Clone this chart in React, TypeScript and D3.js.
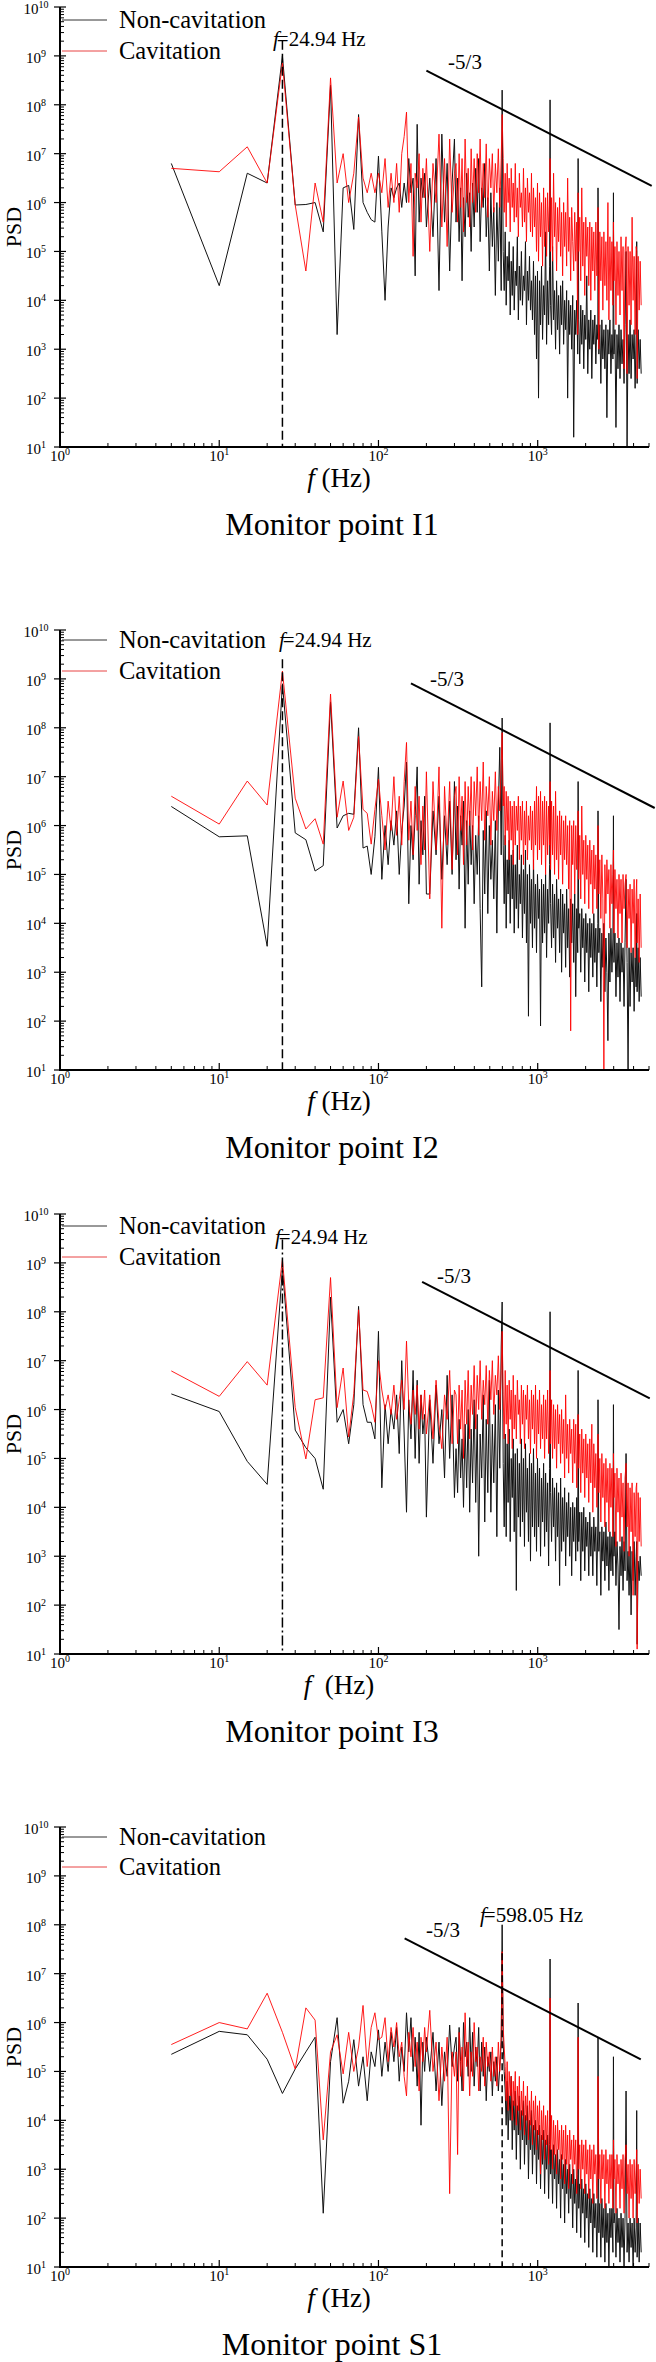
import React from 'react';
import * as d3 from 'd3';

// Frequency grid (Hz) shared by every spectrum
const freqHz = [
  5, 10, 15, 20, 24.94, 30, 35, 40, 45, 50, 55, 60, 65, 70, 75, 80, 85, 90, 95, 100,
  105, 110, 115, 120, 125, 130, 135, 140, 145, 150, 155, 160, 165, 170, 175, 180, 185, 190, 195, 200,
  210, 220, 230, 240, 250, 260, 270, 280, 290, 300,
  307, 314, 321, 328, 335, 342, 350, 358, 366, 374, 382, 390, 399, 408, 417, 426, 435, 445, 455, 465,
  475, 486, 497, 508, 519, 530, 542, 554, 566, 578, 590, 598,
  607, 616, 625, 634, 643, 652, 662, 672, 682, 692,
  702, 712, 723, 734, 745, 756, 767, 778, 790, 802,
  814, 826, 838, 850, 862, 875, 888, 901, 914, 927,
  941, 955, 969, 983, 997, 1012, 1027, 1042, 1057, 1073,
  1089, 1105, 1121, 1137, 1154, 1171, 1188, 1196, 1205, 1222,
  1240, 1258, 1276, 1295, 1314, 1333, 1353, 1373, 1393, 1413,
  1434, 1455, 1476, 1498, 1520, 1542, 1565, 1588, 1611, 1635,
  1659, 1683, 1708, 1733, 1758, 1784, 1794, 1810, 1837, 1864,
  1891, 1919, 1947, 1975, 2004, 2033, 2063, 2093, 2124, 2155,
  2187, 2219, 2251, 2284, 2318, 2352, 2386, 2392, 2421, 2456,
  2492, 2529, 2566, 2604, 2642, 2681, 2720, 2760, 2800, 2841,
  2883, 2925, 2968, 2990, 3012, 3056, 3101, 3147, 3193, 3240,
  3288, 3336, 3385, 3435, 3485, 3536, 3588, 3641, 3694, 3748,
  3803, 3859, 3916, 3973, 4032, 4091, 4151, 4186, 4212, 4274,
  4337, 4400, 4465,
];

// PSD values as decimal exponents (PSD = 10^value), one per frequency above
const i1NonCavExp = [
  6.8, 4.3, 6.6, 6.4, 9.0, 5.95, 5.96, 6.0, 5.4, 8.4, 3.3, 6.3, 6.35, 5.45, 7.8, 6.0, 5.8, 5.65, 5.6, 6.95,
  5.4, 4.0, 5.5, 6.3, 6.1, 6.3, 6.4, 5.9, 6.4, 6.0, 6.9, 6.2, 6.5, 4.5, 7.6, 5.6, 6.5, 6.1, 6.6, 5.5,
  6.5, 5.3, 6.9, 4.2, 7.4, 5.6, 6.8, 4.6, 6.4, 7.3,
  5.6, 6.5, 5.2, 6.3, 4.4, 6.1, 5.3, 6.6, 5.7, 6.2, 5.0, 6.4, 5.5, 6.7, 5.8, 6.9, 5.2, 6.3, 5.9, 6.8,
  5.3, 6.1, 4.6, 6.2, 5.1, 5.9, 4.1, 6.0, 4.8, 6.3, 4.2, 8.3,
  5.0, 4.2, 5.4, 3.9, 4.9, 4.4, 5.2, 3.7, 4.8, 4.1,
  5.1, 3.8, 4.6, 4.3, 5.3, 3.6, 4.7, 4.0, 5.0, 3.9,
  4.5, 4.2, 5.2, 3.5, 4.6, 4.0, 4.9, 3.8, 4.4, 3.6,
  4.8, 3.3, 4.5, 2.8, 4.6, 2.0, 4.4, 3.5, 4.7, 3.2,
  4.3, 3.7, 5.4, 3.1, 4.4, 3.5, 4.7, 8.1, 3.9, 3.3,
  5.1, 3.6, 4.2, 3.0, 4.4, 3.4, 4.1, 2.9, 4.3, 3.5,
  4.4, 3.1, 4.0, 3.4, 4.2, 2.0, 4.0, 3.3, 3.9, 3.0,
  4.1, 1.2, 3.8, 3.3, 4.0, 2.9, 6.9, 3.6, 2.7, 3.9,
  3.1, 3.8, 2.6, 3.7, 3.2, 4.5, 2.5, 3.6, 3.0, 3.8,
  2.4, 3.6, 3.1, 3.7, 2.7, 3.5, 3.2, 6.3, 2.9, 3.5,
  2.3, 3.6, 2.8, 3.4, 2.6, 3.5, 1.6, 3.4, 2.9, 3.6,
  2.5, 3.3, 2.8, 6.2, 2.9, 3.4, 1.4, 3.3, 2.6, 3.5,
  2.4, 3.4, 2.7, 3.2, 2.3, 3.5, 5.0, 1.0, 3.3, 2.5,
  3.6, 2.4, 3.3, 2.8, 3.4, 2.2, 3.3, 5.2, 2.3, 3.4,
  2.6, 3.2, 2.5,
];
const i1CavExp = [
  6.7, 6.63, 7.14, 6.4, 8.85, 5.95, 4.6, 6.4, 5.6, 8.55, 6.4, 7.0, 6.0, 6.6, 7.75, 6.5, 6.2, 6.6, 6.2, 6.6,
  6.2, 6.9, 5.9, 6.6, 6.0, 6.8, 5.8, 7.0, 7.35, 7.85, 6.0, 6.8, 4.9, 6.6, 6.3, 7.0, 5.6, 6.7, 6.1, 6.9,
  5.0, 6.8, 6.0, 7.4, 5.5, 6.9, 5.1, 7.3, 5.8, 6.6,
  6.8, 5.6, 7.0, 5.9, 6.9, 5.4, 7.3, 6.0, 6.7, 5.5, 7.1, 6.0, 6.9, 5.8, 7.0, 6.2, 7.3, 5.9, 6.8, 6.1,
  7.2, 5.7, 6.9, 6.3, 7.0, 5.8, 6.8, 6.2, 7.1, 5.9, 6.9, 7.8,
  6.9, 5.8, 6.6, 5.5, 6.8, 6.0, 6.5, 5.4, 6.7, 5.9,
  6.4, 5.6, 6.8, 5.7, 6.3, 5.3, 6.6, 5.9, 6.2, 5.5,
  6.7, 5.6, 6.3, 5.2, 6.5, 5.8, 6.2, 5.4, 6.6, 5.3,
  6.3, 5.5, 6.1, 5.0, 6.4, 4.8, 6.2, 5.3, 6.0, 4.7,
  6.3, 5.1, 6.1, 4.9, 6.2, 5.4, 6.0, 6.9, 5.0, 6.1,
  4.8, 6.6, 5.3, 6.0, 4.6, 5.9, 5.2, 6.1, 4.9, 5.8,
  4.5, 6.0, 5.1, 5.8, 4.7, 6.5, 5.0, 5.7, 4.4, 5.9,
  5.2, 4.6, 5.8, 4.8, 5.6, 3.3, 6.2, 5.0, 5.7, 4.4,
  6.3, 4.7, 5.6, 4.1, 5.7, 4.9, 5.5, 4.3, 5.6, 4.0,
  5.5, 4.6, 5.4, 4.2, 5.6, 4.5, 5.3, 5.9, 3.0, 5.4,
  4.4, 5.3, 3.8, 5.4, 4.3, 5.2, 4.0, 6.0, 3.6, 5.3,
  4.2, 5.2, 3.9, 5.6, 4.4, 5.1, 3.5, 5.2, 4.1, 5.0,
  3.7, 5.3, 4.2, 5.1, 2.6, 5.0, 5.3, 2.5, 5.1, 3.9,
  5.0, 3.5, 5.7, 4.0, 4.9, 3.3, 5.1, 5.0, 2.4, 4.9,
  3.8, 4.8, 3.9,
];
const i2NonCavExp = [
  6.39, 5.77, 5.79, 3.53, 8.9, 5.85, 5.71, 5.07, 5.18, 8.53, 5.95, 6.2, 6.25, 6.23, 8.0, 5.54, 5.58, 5.0, 5.77, 7.19,
  4.9, 6.0, 5.2, 6.1, 5.6, 6.3, 5.0, 5.9, 6.4, 7.3, 4.4, 6.0, 5.3, 6.2, 7.2, 4.8, 6.1, 5.4, 6.6, 4.6,
  4.6, 6.3, 5.4, 6.6, 4.9, 6.2, 5.2, 6.5, 5.0, 6.9,
  5.3, 6.4, 4.7, 6.2, 5.6, 6.5, 3.9, 6.1, 4.8, 6.3, 5.2, 6.0, 4.4, 5.8, 5.0, 6.2, 4.3, 2.7, 5.9, 4.6,
  6.3, 4.2, 6.0, 4.9, 5.7, 4.5, 6.1, 3.8, 6.4, 7.6, 5.4, 8.2,
  5.6, 4.4, 5.8, 3.9, 5.3, 4.6, 5.7, 4.0, 5.4, 4.5,
  5.5, 3.8, 5.2, 4.3, 5.6, 3.9, 5.0, 4.4, 5.4, 3.7,
  5.1, 4.2, 5.5, 3.6, 5.0, 2.1, 5.2, 4.0, 4.9, 3.5,
  5.3, 3.9, 4.8, 3.4, 5.0, 4.1, 4.7, 1.9, 4.9, 3.6,
  4.8, 3.8, 5.0, 3.3, 4.7, 4.0, 5.2, 8.1, 4.4, 3.5,
  4.8, 3.7, 4.6, 3.2, 4.9, 3.9, 4.5, 3.4, 4.7, 3.0,
  4.6, 3.8, 4.4, 3.1, 4.7, 3.5, 4.3, 2.9, 4.5, 3.6,
  4.4, 3.2, 4.6, 2.5, 4.3, 3.4, 6.9, 3.9, 4.2, 3.0,
  4.3, 3.5, 4.1, 2.8, 4.2, 3.4, 4.0, 2.6, 4.1, 3.3,
  4.0, 2.9, 4.2, 3.2, 3.9, 2.7, 4.0, 6.3, 3.4, 3.9,
  2.4, 3.8, 3.1, 4.0, 2.6, 3.7, 3.0, 1.6, 3.8, 2.8,
  3.9, 3.0, 3.7, 6.2, 3.2, 3.8, 2.5, 3.6, 2.9, 3.7,
  2.4, 3.6, 3.0, 3.5, 2.3, 3.6, 4.9, 3.2, 1.0, 3.5,
  2.3, 3.4, 2.8, 3.5, 2.2, 3.3, 2.7, 4.2, 2.6, 3.5,
  2.4, 3.3, 2.5,
];
const i2CavExp = [
  6.6, 6.03, 6.91, 6.42, 9.16, 6.56, 5.93, 6.14, 5.62, 8.69, 6.17, 6.91, 5.9, 6.17, 7.82, 6.33, 6.25, 5.62, 6.33, 6.95,
  6.2, 5.5, 6.5, 5.9, 7.0, 5.8, 6.6, 5.6, 6.9, 7.7, 5.7, 6.5, 5.4, 6.8, 5.9, 6.6, 5.2, 6.4, 5.5, 7.1,
  4.5, 6.9, 5.5, 7.2, 3.9, 6.8, 5.6, 6.9, 5.1, 6.6,
  6.8, 5.4, 7.0, 5.9, 6.6, 5.2, 6.9, 5.6, 6.8, 6.0, 7.0, 5.5, 6.9, 6.2, 7.2, 5.8, 6.9, 6.1, 7.3, 5.7,
  6.8, 6.2, 7.0, 5.6, 6.7, 6.1, 7.1, 5.9, 6.8, 6.3, 7.3, 7.9,
  6.4, 6.8, 5.6, 6.7, 5.9, 6.6, 5.3, 6.5, 5.7, 6.4,
  5.2, 6.5, 5.6, 6.4, 5.9, 6.6, 5.3, 6.4, 5.7, 6.5,
  5.2, 6.3, 5.6, 6.5, 5.3, 6.2, 5.7, 6.4, 5.5, 6.3,
  5.1, 6.5, 5.6, 6.8, 5.3, 6.6, 5.5, 6.7, 5.2, 6.5,
  5.6, 6.6, 5.0, 6.5, 5.4, 6.4, 5.6, 6.9, 5.1, 6.5,
  5.4, 6.4, 5.0, 6.7, 5.3, 6.2, 4.9, 6.3, 5.4, 6.2,
  4.8, 6.1, 5.3, 6.2, 5.2, 6.0, 4.7, 6.1, 1.8, 6.0,
  5.2, 6.1, 4.6, 6.0, 5.1, 5.9, 6.3, 4.9, 5.8, 4.5,
  6.4, 5.0, 5.7, 4.4, 5.8, 4.9, 5.6, 4.3, 5.7, 4.8,
  5.5, 4.2, 5.6, 4.7, 5.4, 4.3, 5.5, 6.0, 4.6, 5.3,
  4.1, 5.4, 4.5, 1.0, 5.2, 4.2, 5.3, 4.6, 5.1, 3.9,
  5.2, 4.4, 5.0, 5.5, 3.8, 5.1, 4.3, 4.9, 3.7, 5.0,
  4.2, 4.9, 3.6, 5.0, 4.3, 4.8, 5.0, 3.5, 4.7, 4.1,
  4.8, 3.4, 4.7, 4.0, 4.9, 3.3, 4.6, 4.9, 3.6, 4.5,
  3.2, 4.6, 3.5,
];
const i3NonCavExp = [
  6.32, 5.96, 4.94, 4.47, 8.9, 5.58, 5.22, 5.0, 4.37, 8.3, 5.74, 6.0, 5.3, 6.1, 8.11, 6.1, 5.74, 5.74, 5.4, 7.6,
  4.4, 6.1, 5.3, 6.0, 5.6, 6.3, 5.1, 7.0, 5.5, 3.9, 6.2, 5.4, 6.8, 5.0, 6.6, 4.9, 6.3, 5.5, 5.9, 3.8,
  6.2, 4.9, 6.5, 5.3, 6.0, 4.6, 6.7, 5.0, 6.3, 4.2,
  5.2, 4.3, 5.8, 4.6, 5.4, 4.0, 5.7, 4.4, 6.0, 3.9, 5.6, 4.5, 6.2, 4.1, 5.9, 3.0, 5.5, 4.6, 6.3, 3.7,
  5.8, 4.3, 6.6, 3.9, 5.7, 4.5, 6.1, 3.4, 6.4, 4.8, 7.3, 8.2,
  4.9, 3.6, 5.5, 3.4, 5.3, 4.1, 5.6, 3.3, 5.0, 4.2,
  5.4, 3.5, 5.1, 2.3, 5.2, 3.8, 4.9, 3.4, 5.4, 3.7,
  5.0, 3.2, 5.3, 3.9, 4.8, 3.3, 5.1, 2.9, 4.9, 3.6,
  5.2, 3.4, 4.7, 3.1, 5.0, 3.6, 4.8, 3.0, 4.6, 3.7,
  4.9, 3.2, 4.7, 3.5, 4.5, 2.8, 4.8, 8.0, 4.3, 3.3,
  4.6, 3.6, 4.4, 2.9, 4.5, 3.4, 4.3, 2.4, 4.6, 3.1,
  4.2, 3.3, 4.4, 2.8, 4.1, 3.4, 4.3, 3.0, 4.0, 2.6,
  4.1, 3.3, 4.0, 2.9, 4.2, 3.1, 6.8, 3.3, 3.9, 2.5,
  3.9, 3.1, 4.0, 2.7, 3.8, 3.2, 3.7, 2.6, 3.9, 3.0,
  3.6, 2.6, 3.8, 3.1, 3.6, 2.4, 3.7, 6.2, 3.1, 3.5,
  2.2, 3.6, 2.9, 3.5, 2.5, 3.7, 2.8, 3.4, 2.3, 3.5,
  2.7, 3.4, 2.6, 6.1, 3.0, 3.5, 2.4, 3.3, 2.8, 1.5,
  3.2, 2.6, 3.4, 2.3, 3.3, 2.7, 5.1, 2.5, 3.1, 2.2,
  3.2, 1.8, 3.1, 2.5, 3.3, 2.2, 3.0, 3.3, 1.2, 2.9,
  2.5, 3.0, 2.6,
];
const i3CavExp = [
  6.79, 6.27, 6.98, 6.5, 9.07, 6.04, 4.99, 6.2, 6.24, 8.7, 6.04, 6.85, 5.44, 6.33, 8.04, 6.4, 6.37, 6.1, 5.74, 7.0,
  6.4, 6.0, 6.3, 5.9, 6.5, 5.8, 6.2, 6.6, 6.0, 7.4, 6.1, 5.7, 6.4, 5.9, 6.5, 5.6, 6.3, 5.8, 6.4, 5.5,
  6.3, 5.4, 6.6, 5.7, 5.2, 6.3, 5.8, 6.8, 5.3, 6.4,
  6.3, 5.3, 6.5, 5.6, 6.4, 5.0, 6.6, 5.7, 6.8, 5.4, 6.5, 5.9, 6.9, 5.6, 6.7, 6.0, 7.0, 5.8, 6.6, 6.1,
  6.9, 5.7, 6.8, 6.2, 7.0, 5.9, 6.7, 6.3, 7.1, 6.0, 6.8, 7.6,
  6.3, 5.4, 6.8, 5.7, 6.5, 5.3, 6.6, 5.8, 6.4, 5.2,
  6.7, 5.6, 6.3, 5.4, 6.6, 5.9, 6.2, 5.3, 6.5, 5.7,
  6.4, 5.2, 6.3, 5.8, 6.5, 5.4, 6.2, 5.1, 6.4, 5.6,
  6.3, 5.3, 6.5, 5.0, 6.2, 5.5, 6.4, 5.2, 6.1, 5.4,
  6.3, 5.0, 6.2, 5.4, 6.4, 5.1, 6.1, 6.8, 5.3, 6.2,
  5.0, 6.1, 5.2, 6.0, 4.8, 6.1, 5.3, 5.9, 4.9, 6.0,
  5.1, 5.8, 4.6, 6.3, 5.0, 5.7, 4.7, 5.8, 5.1, 5.6,
  4.5, 5.8, 4.9, 5.7, 4.4, 5.6, 5.9, 4.8, 5.5, 4.3,
  5.6, 4.7, 5.4, 4.2, 5.5, 4.6, 5.3, 4.1, 5.4, 4.5,
  5.7, 3.9, 5.3, 4.4, 5.1, 4.0, 5.2, 5.5, 4.3, 5.0,
  3.7, 5.1, 4.2, 4.9, 3.6, 5.0, 4.1, 4.8, 3.5, 4.9,
  4.0, 4.8, 3.4, 5.1, 4.2, 4.7, 3.2, 4.8, 3.9, 4.6,
  3.3, 4.7, 3.8, 4.5, 3.1, 4.6, 4.9, 3.6, 4.5, 3.0,
  4.4, 3.5, 4.5, 2.2, 4.3, 3.4, 4.4, 4.5, 1.1, 4.3,
  3.3, 4.2, 3.2,
];
const s1NonCavExp = [
  5.35, 5.82, 5.75, 5.25, 4.55, 5.05, 5.4, 5.7, 2.1, 5.2, 6.1, 4.35, 4.8, 5.65, 4.7, 5.3, 4.4, 5.4, 5.1, 5.85,
  4.9, 5.6, 5.0, 5.8, 5.2, 5.9, 4.8, 5.5, 5.0, 6.2, 5.4, 6.1, 5.0, 5.7, 4.7, 5.8, 3.9, 5.6, 5.0, 5.7,
  5.0, 5.8, 4.6, 5.6, 4.3, 5.4, 4.9, 5.95, 5.1, 5.5,
  5.7, 4.8, 5.9, 5.2, 4.6, 6.0, 5.3, 5.6, 4.9, 6.1, 5.0, 5.8, 4.7, 5.5, 5.1, 5.9, 4.6, 5.6, 4.9, 5.5,
  4.4, 5.3, 5.0, 5.4, 4.5, 5.2, 4.8, 5.3, 4.6, 5.1, 5.6, 8.0,
  5.6, 5.0, 4.6, 3.9, 4.8, 3.6, 4.5, 4.0, 4.9, 3.4,
  4.4, 3.8, 4.6, 3.2, 4.3, 3.7, 4.5, 3.0, 4.2, 3.6,
  4.4, 3.1, 4.1, 3.5, 4.3, 2.8, 4.0, 3.4, 4.2, 2.9,
  3.9, 3.3, 4.0, 2.7, 3.8, 3.2, 3.9, 2.6, 3.7, 3.1,
  3.8, 2.5, 3.6, 3.0, 3.7, 2.4, 3.5, 7.3, 2.9, 3.4,
  2.3, 3.5, 2.8, 3.3, 2.2, 3.4, 2.7, 3.2, 2.0, 3.3,
  2.6, 3.1, 1.9, 3.2, 2.5, 3.0, 2.1, 3.1, 2.4, 2.9,
  1.8, 3.0, 2.3, 2.8, 1.7, 2.9, 6.4, 2.2, 2.7, 1.6,
  2.8, 2.1, 2.6, 1.5, 2.7, 2.0, 2.5, 1.4, 2.6, 1.9,
  2.4, 1.3, 2.5, 1.8, 2.3, 1.2, 2.4, 5.7, 1.7, 2.3,
  1.2, 2.4, 1.6, 2.2, 1.1, 2.3, 1.5, 2.1, 1.0, 2.2,
  1.6, 2.2, 1.3, 5.3, 1.9, 2.1, 1.2, 2.2, 1.5, 2.0,
  1.1, 2.1, 1.4, 2.0, 1.0, 2.0, 4.6, 1.3, 1.9, 1.1,
  2.0, 1.4, 1.9, 1.0, 2.0, 1.3, 1.8, 4.2, 1.2, 2.0,
  1.1, 1.9, 1.3,
];
const s1CavExp = [
  5.55, 6.0, 5.87, 6.6, 5.8, 5.05, 6.3, 6.05, 3.6, 5.4, 5.75, 4.95, 5.8, 5.0, 5.5, 6.35, 5.1, 5.9, 6.2, 5.65,
  5.7, 6.1, 5.2, 5.9, 5.5, 6.0, 5.3, 5.6, 4.9, 4.5, 5.8, 5.3, 5.9, 5.1, 5.6, 4.6, 5.7, 5.2, 5.9, 5.4,
  6.25, 5.0, 5.6, 4.4, 5.5, 4.8, 5.7, 2.5, 5.4, 4.9,
  5.4, 3.3, 5.8, 4.9, 5.5, 4.6, 6.2, 5.1, 5.6, 4.5, 5.4, 4.9, 6.0, 5.2, 5.5, 4.6, 5.3, 5.0, 5.7, 4.7,
  5.6, 5.1, 5.4, 4.8, 5.5, 4.9, 5.3, 4.7, 5.6, 5.0, 5.7, 7.45,
  5.9, 5.5, 5.1, 4.4, 5.2, 4.2, 5.0, 4.5, 4.9, 4.0,
  4.8, 4.3, 5.0, 3.9, 4.7, 4.2, 4.9, 3.8, 4.6, 4.1,
  4.8, 3.7, 4.5, 4.0, 4.7, 3.6, 4.4, 3.9, 4.6, 3.5,
  4.4, 3.8, 4.5, 3.4, 4.3, 3.7, 4.4, 2.9, 4.2, 3.6,
  4.3, 3.2, 4.1, 3.5, 4.2, 3.1, 4.0, 6.5, 3.4, 4.1,
  3.0, 4.0, 3.3, 3.9, 2.9, 4.0, 3.4, 3.8, 2.8, 3.9,
  3.2, 3.8, 2.7, 3.9, 3.1, 3.7, 2.6, 3.8, 3.2, 3.6,
  2.7, 3.7, 3.1, 3.6, 2.5, 3.7, 5.7, 3.0, 3.5, 2.6,
  3.6, 3.0, 3.5, 2.5, 3.6, 2.9, 3.4, 2.4, 3.5, 2.8,
  3.4, 2.3, 3.5, 2.9, 3.3, 2.4, 3.4, 4.9, 2.8, 3.3,
  2.3, 3.4, 2.8, 3.3, 2.2, 3.4, 2.7, 3.2, 2.3, 3.3,
  2.6, 3.3, 2.2, 3.6, 2.8, 3.2, 2.1, 3.3, 2.7, 3.1,
  2.2, 3.2, 2.6, 3.3, 2.1, 3.2, 3.5, 2.5, 3.1, 2.0,
  3.2, 2.4, 3.1, 2.0, 3.2, 2.5, 3.0, 3.4, 1.9, 3.1,
  2.3, 3.0, 2.4,
];

const panelTitles = ['Monitor point I1', 'Monitor point I2', 'Monitor point I3', 'Monitor point S1'];
const nonCavSeries = [i1NonCavExp, i2NonCavExp, i3NonCavExp, s1NonCavExp];
const cavSeries = [i1CavExp, i2CavExp, i3CavExp, s1CavExp];
const markerFreq = [24.94, 24.94, 24.94, 598.05];
const markerLabel = ['24.94 Hz', '24.94 Hz', '24.94 Hz', '598.05 Hz'];
const markerTopExp = [9.31, 9.4, 9.48, 7.42];
// -5/3 reference line: start frequency, start exponent, end frequency
const slopeStartHz = [200, 160, 188, 146];
const slopeStartExp = [8.7, 8.91, 8.61, 7.72];
const slopeEndHz = [5200, 5430, 5055, 4440];
const xTickExps = [0, 1, 2, 3];
const yTickExps = [1, 2, 3, 4, 5, 6, 7, 8, 9, 10];

// ---- layout (not data) ----
const FONT = "'Liberation Serif', 'Times New Roman', serif";
const PLOT_L = 60;
const PLOT_R = 649;
const PLOT_H = 440;
const panelTops = [7, 630, 1214, 1827];
const legendRows = [[13, 44], [10, 41], [12, 43], [10, 40]];
const markerLabelX = [273, 279, 275, 480];
const markerLabelDy = [32, 10, 23, 88];
const slopeLabelPos = [[465, 55], [447, 49], [454, 62], [443, 103]];
const markerDash = ['9,4', '9,4', '10,3,2,3', '7,4'];
const xLabelGap = [' ', ' ', '  ', ' '];

function Panel({ i }: { i: number }) {
  const top = panelTops[i];
  const bottom = top + PLOT_H;
  const x = d3.scaleLog().domain([1, 5000]).range([PLOT_L, PLOT_R]);
  const y = d3.scaleLog().domain([10, 1e10]).range([bottom, top]);
  const line = d3
    .line<number>()
    .x((_, k) => x(freqHz[k]))
    .y((e) => y(Math.pow(10, e)));
  const clipId = `clip${i}`;

  const yMinor: number[] = [];
  for (let e = 1; e < 10; e++) for (let m = 2; m <= 9; m++) yMinor.push(m * Math.pow(10, e));
  const xMinor: number[] = [];
  for (let e = 0; e < 4; e++)
    for (let m = 2; m <= 9; m++) {
      const v = m * Math.pow(10, e);
      if (v <= 5000) xMinor.push(v);
    }

  const s0 = slopeStartHz[i];
  const e0 = slopeStartExp[i];
  const s1 = slopeEndHz[i];
  const e1 = e0 - (5 / 3) * Math.log10(s1 / s0);

  const mx = x(markerFreq[i]);
  const [lr1, lr2] = legendRows[i];
  const [slx, sly] = slopeLabelPos[i];

  return (
    <g fontFamily={FONT}>
      <defs>
        <clipPath id={clipId}>
          <rect x={PLOT_L} y={top} width={656 - PLOT_L} height={PLOT_H} />
        </clipPath>
      </defs>

      {/* spectra */}
      <g clipPath={`url(#${clipId})`}>
        <path d={line(nonCavSeries[i]) || ''} fill="none" stroke="#111" strokeWidth={1} strokeLinejoin="round" />
        <path d={line(cavSeries[i]) || ''} fill="none" stroke="#ff0000" strokeWidth={1} strokeOpacity={0.88} strokeLinejoin="round" />
      </g>

      {/* marker line */}
      <line
        x1={mx}
        x2={mx}
        y1={y(Math.pow(10, markerTopExp[i]))}
        y2={bottom}
        stroke="#000"
        strokeWidth={1.5}
        strokeDasharray={markerDash[i]}
      />

      {/* -5/3 line */}
      <line
        x1={x(s0)}
        y1={y(Math.pow(10, e0))}
        x2={x(s1)}
        y2={y(Math.pow(10, e1))}
        stroke="#000"
        strokeWidth={2}
      />
      <text x={slx} y={top + sly + 7} fontSize={21} textAnchor="middle" fill="#000">
        -5/3
      </text>

      {/* marker label */}
      <text x={markerLabelX[i]} y={top + markerLabelDy[i] + 7} fontSize={21} fill="#000">
        <tspan fontStyle="italic">f</tspan>
        <tspan dx={-2}>={markerLabel[i]}</tspan>
      </text>

      {/* axes */}
      <line x1={PLOT_L} x2={PLOT_L} y1={top} y2={bottom + 1} stroke="#000" strokeWidth={2} />
      <line x1={PLOT_L - 1} x2={PLOT_R} y1={bottom} y2={bottom} stroke="#000" strokeWidth={2} />
      {yMinor.map((v) => (
        <line key={`ym${v}`} x1={PLOT_L} x2={PLOT_L + 4} y1={y(v)} y2={y(v)} stroke="#000" strokeWidth={1} />
      ))}
      {yTickExps.map((e) => (
        <g key={`yt${e}`}>
          <line x1={PLOT_L - 6} x2={PLOT_L + 6} y1={y(Math.pow(10, e))} y2={y(Math.pow(10, e))} stroke="#000" strokeWidth={1.2} />
          <text x={36} y={y(Math.pow(10, e)) + 7} fontSize={15} textAnchor="middle" fill="#000">
            <tspan>10</tspan>
            <tspan dy={-6} fontSize={10}>{e}</tspan>
          </text>
        </g>
      ))}
      {xMinor.map((v) => (
        <line key={`xm${v}`} x1={x(v)} x2={x(v)} y1={bottom} y2={bottom - 4} stroke="#000" strokeWidth={1} />
      ))}
      {xTickExps.map((e) => (
        <g key={`xt${e}`}>
          <line x1={x(Math.pow(10, e))} x2={x(Math.pow(10, e))} y1={bottom} y2={bottom - 7} stroke="#000" strokeWidth={1.2} />
          <text x={x(Math.pow(10, e))} y={bottom + 14} fontSize={15} textAnchor="middle" fill="#000">
            <tspan>10</tspan>
            <tspan dy={-6} fontSize={10}>{e}</tspan>
          </text>
        </g>
      ))}

      {/* axis titles */}
      <text transform={`translate(21,${top + PLOT_H / 2}) rotate(-90)`} fontSize={22} textAnchor="middle" fill="#000">
        PSD
      </text>
      <text x={339} y={bottom + 40} fontSize={27} textAnchor="middle" fill="#000" xmlSpace="preserve">
        <tspan fontStyle="italic">f</tspan>
        <tspan>{xLabelGap[i]}(Hz)</tspan>
      </text>

      {/* legend */}
      <line x1={62} x2={107} y1={top + lr1} y2={top + lr1} stroke="#333" strokeWidth={1} />
      <text x={119} y={top + lr1 + 8} fontSize={24.5} fill="#000">Non-cavitation</text>
      <line x1={62} x2={107} y1={top + lr2} y2={top + lr2} stroke="#e84545" strokeWidth={1} />
      <text x={119} y={top + lr2 + 8} fontSize={24.5} fill="#000">Cavitation</text>

      {/* panel title */}
      <text x={332} y={bottom + 88} fontSize={32} textAnchor="middle" fill="#000">
        {panelTitles[i]}
      </text>
    </g>
  );
}

export default function App() {
  return (
    <svg
      width={656}
      height={2362}
      viewBox="0 0 656 2362"
      style={{ position: 'absolute', left: 0, top: 0, display: 'block', background: '#fff' }}
    >
      <rect width={656} height={2362} fill="#fff" />
      {panelTitles.map((_, i) => (
        <Panel key={i} i={i} />
      ))}
    </svg>
  );
}
